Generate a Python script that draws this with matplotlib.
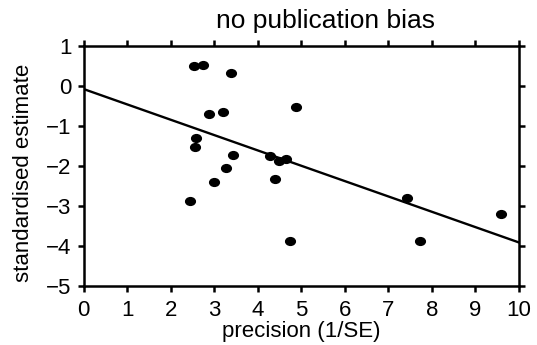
import matplotlib.pyplot as plt
from matplotlib.path import Path
from matplotlib.transforms import Affine2D
import numpy as np

plt.rcParams["font.family"] = ["Liberation Sans", "DejaVu Sans"]

precision = [2.54, 2.73, 3.39, 2.89, 3.19, 4.87, 2.59, 2.55, 3.43, 4.28,
             4.49, 4.64, 3.28, 2.99, 4.39, 2.44, 4.75, 7.42, 9.60, 7.72]
estimate = [0.50, 0.53, 0.32, -0.69, -0.64, -0.52, -1.31, -1.52, -1.73, -1.74,
            -1.87, -1.82, -2.04, -2.39, -2.33, -2.88, -3.87, -2.81, -3.20, -3.87]

# fitted regression line
intercept = -0.08
slope = -0.383
line_x = np.array([0, 10])

# slightly flattened dots like the original
dot = Path.unit_circle().transformed(Affine2D().scale(1.25, 1.0))

fig = plt.figure(figsize=(5.37, 3.45), dpi=100)
ax = fig.add_axes([0.156, 0.171, 0.81, 0.696])

ax.plot(line_x, intercept + slope * line_x, color="black", lw=1.7)
ax.plot(precision, estimate, linestyle="none", marker=dot, color="black",
        markersize=7)

ax.set_xlim(0, 10)
ax.set_ylim(-5, 1)
ax.set_xticks(range(0, 11))
ax.set_yticks(range(-5, 2))

for s in ax.spines.values():
    s.set_linewidth(1.8)
ax.tick_params(direction="out", length=4, width=1.8, labelsize=16,
               top=True, right=True)
ax.tick_params(axis="x", pad=6)
ax.tick_params(axis="y", pad=5)

fig.text(0.606, 0.919, "no publication bias", fontsize=19, ha="center",
         va="baseline")
ax.set_xlabel("precision (1/SE)", fontsize=16)
ax.xaxis.set_label_coords(0.5, -0.145)
ax.set_ylabel("standardised estimate", fontsize=16)
ax.yaxis.set_label_coords(-0.115, 0.47)

plt.savefig("out.png", dpi=100)
